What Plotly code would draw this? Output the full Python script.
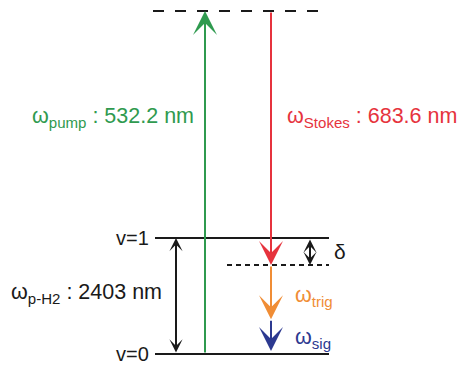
import plotly.graph_objects as go

# ---- data (schematic energy levels, arbitrary units) ----
level_names = ["v=0", "v=1"]
level_energy = [0.0, 1.0]
virtual_pump_energy = 2.957      # upper virtual level (dashed)
virtual_stokes_energy = 0.767    # lower virtual level (dotted)
trig_sig_boundary = 0.30
sig_tip = 0.026

transition_names = ["pump", "Stokes", "p-H2", "trig", "sig"]
transition_wavelength_nm = ["532.2", "683.6", "2403", None, None]

# ---- styles / layout positions ----
GREEN = "#2f9a4f"
RED = "#e6333d"
ORANGE = "#f08d35"
NAVY = "#2c3990"
BLACK = "#1a1a1a"
FONT = "Liberation Sans, Arial, sans-serif"

x_level_start, x_level_end = 155, 329
x_pump, x_stokes, x_vib, x_delta = 205, 271, 176, 310

fig = go.Figure()

shapes = []
# real levels
for name, e in zip(level_names, level_energy):
    shapes.append(dict(type="line", x0=x_level_start, x1=x_level_end, y0=e, y1=e,
                       line=dict(color=BLACK, width=2)))
# virtual levels
shapes.append(dict(type="line", x0=153, x1=329, y0=virtual_pump_energy, y1=virtual_pump_energy,
                   line=dict(color=BLACK, width=2, dash="11px,11px")))
shapes.append(dict(type="line", x0=227, x1=329, y0=virtual_stokes_energy, y1=virtual_stokes_energy,
                   line=dict(color=BLACK, width=2, dash="5px,4px")))

annotations = []

def arrow(x, y_tail, y_head, color, both=False, size=1.65):
    annotations.append(dict(
        x=x, y=y_head, ax=x, ay=y_tail, xref="x", yref="y", axref="x", ayref="y",
        text="", showarrow=True, arrowhead=3, arrowsize=size, arrowwidth=2,
        arrowcolor=color, standoff=0, startstandoff=0,
        arrowside="end+start" if both else "end",
        startarrowhead=3, startarrowsize=size,
    ))

arrow(x_pump, level_energy[0], virtual_pump_energy, GREEN, size=2.0)
arrow(x_stokes, virtual_pump_energy, virtual_stokes_energy, RED, size=2.0)
arrow(x_stokes, virtual_stokes_energy, trig_sig_boundary, ORANGE, size=2.0)
arrow(x_stokes, trig_sig_boundary, sig_tip, NAVY, size=2.0)
arrow(x_vib, level_energy[0], level_energy[1], BLACK, both=True, size=1.1)
arrow(x_delta, level_energy[1], virtual_stokes_energy, BLACK, both=True, size=1.1)

def label(x, y, text, color, size, anchor):
    annotations.append(dict(x=x, y=y, xref="x", yref="y", text=text, showarrow=False,
                            xanchor=anchor, yanchor="middle",
                            font=dict(family=FONT, size=size, color=color)))

# level labels
for name, e in zip(level_names, level_energy):
    label(151, e, name, BLACK, 20, "right")

label(196, 2.04, f"ω<sub>{transition_names[0]}</sub> : {transition_wavelength_nm[0]} nm", GREEN, 21.5, "right")
label(285, 2.04, f"ω<sub>{transition_names[1]}</sub> : {transition_wavelength_nm[1]} nm", RED, 21.5, "left")
label(164, 0.52, f"ω<sub>{transition_names[2]}</sub> : {transition_wavelength_nm[2]} nm", BLACK, 21.5, "right")
label(293, 0.50, f"ω<sub>{transition_names[3]}</sub>", ORANGE, 21.5, "left")
label(293, 0.13, f"ω<sub>{transition_names[4]}</sub>", NAVY, 21.5, "left")
label(332, 0.88, "δ", BLACK, 21, "left")

fig.update_layout(
    width=458, height=366,
    margin=dict(l=0, r=0, t=0, b=0),
    paper_bgcolor="white", plot_bgcolor="white",
    showlegend=False,
    shapes=shapes, annotations=annotations,
    xaxis=dict(range=[0, 458], visible=False, fixedrange=True),
    yaxis=dict(range=[-12 / 116, 354 / 116], visible=False, fixedrange=True),
)

fig.write_html("out.html")
